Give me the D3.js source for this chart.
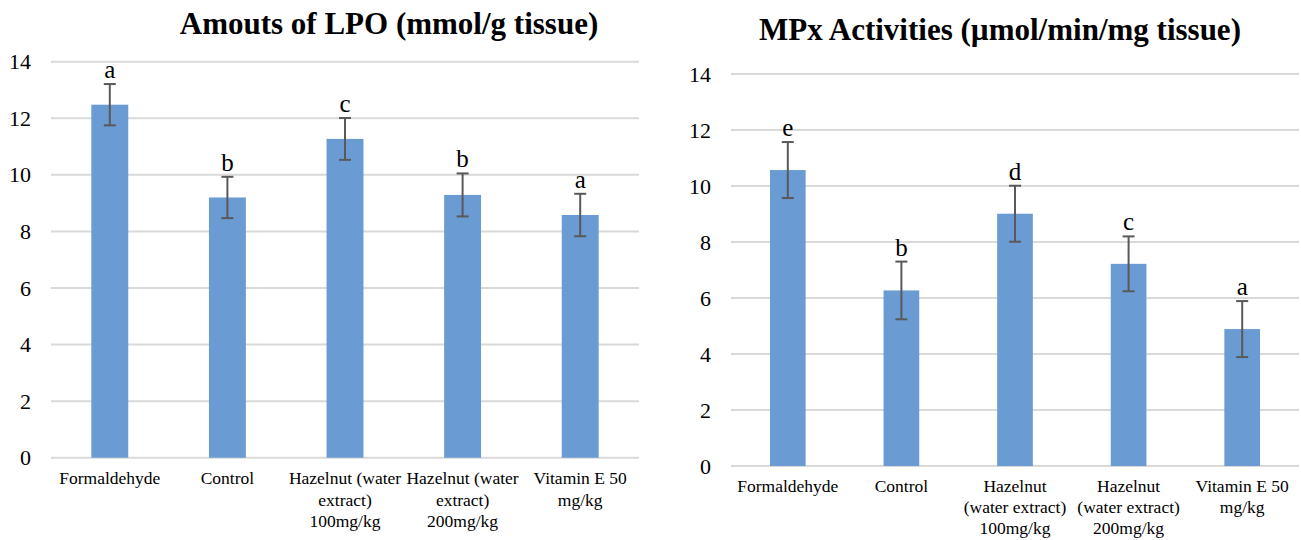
<!DOCTYPE html>
<html>
<head>
<meta charset="utf-8">
<script src="https://cdn.jsdelivr.net/npm/d3@7"></script>
<style>
  html, body { margin: 0; padding: 0; background: #ffffff; }
  svg { display: block; }
  text { font-family: "Liberation Serif", "Times New Roman", serif; fill: #000; }
</style>
</head>
<body>
<svg id="chart" width="1301" height="540"></svg>
<script>
// ---- Data ----
const categories = ["Formaldehyde", "Control", "Hazelnut 100", "Hazelnut 200", "Vitamin E 50"];

const lpoTitle = "Amouts of LPO (mmol/g tissue)";
const lpoValues = [12.48, 9.20, 11.27, 9.29, 8.58];
const lpoErrors = [0.73, 0.73, 0.74, 0.76, 0.75];
const lpoLetters = ["a", "b", "c", "b", "a"];
const lpoLabels = [
  ["Formaldehyde"],
  ["Control"],
  ["Hazelnut (water", "extract)", "100mg/kg"],
  ["Hazelnut (water", "extract)", "200mg/kg"],
  ["Vitamin E 50", "mg/kg"]
];

const mpxTitle = "MPx Activities (\u00b5mol/min/mg tissue)";
const mpxValues = [10.57, 6.27, 9.01, 7.22, 4.89];
const mpxErrors = [1.0, 1.03, 1.0, 0.98, 1.0];
const mpxLetters = ["e", "b", "d", "c", "a"];
const mpxLabels = [
  ["Formaldehyde"],
  ["Control"],
  ["Hazelnut", "(water extract)", "100mg/kg"],
  ["Hazelnut", "(water extract)", "200mg/kg"],
  ["Vitamin E 50", "mg/kg"]
];

const yTicks = [0, 2, 4, 6, 8, 10, 12, 14];

// ---- Drawing ----
const svg = d3.select("#chart");

function drawChart(cfg) {
  const g = svg.append("g");
  const x = d3.scaleBand().domain(categories).range([cfg.x0, cfg.x1])
    .paddingInner(0.686).paddingOuter(0.343);
  const y = d3.scaleLinear().domain([0, 14]).range([cfg.y0, cfg.y1]);

  // title
  g.append("text")
    .attr("x", cfg.titleX).attr("y", cfg.titleY)
    .attr("text-anchor", "middle")
    .style("font-weight", "bold").style("font-size", "31px")
    .text(cfg.title);

  // gridlines
  g.append("g").selectAll("line").data(yTicks).join("line")
    .attr("x1", cfg.x0).attr("x2", cfg.x1)
    .attr("y1", d => y(d)).attr("y2", d => y(d))
    .attr("stroke", "#d9d9d9").attr("stroke-width", 2);

  // y axis labels
  const yAxis = d3.axisLeft(y).tickValues(yTicks).tickSize(0).tickPadding(0);
  const ya = g.append("g").attr("transform", `translate(${cfg.yLabelX},0)`).call(yAxis);
  ya.select(".domain").remove();
  ya.selectAll("text")
    .style("font-family", '"Liberation Serif", "Times New Roman", serif')
    .style("font-size", "22px").attr("fill", "#000");

  // bars
  g.append("g").selectAll("rect").data(cfg.values).join("rect")
    .attr("x", (d, i) => x(categories[i]))
    .attr("width", x.bandwidth())
    .attr("y", d => y(d))
    .attr("height", d => y(0) - y(d))
    .attr("fill", "#6a9bd3");

  // error bars
  const eg = g.append("g").attr("stroke", "#595959").attr("stroke-width", 2);
  cfg.values.forEach((v, i) => {
    const cx = x(categories[i]) + x.bandwidth() / 2;
    const e = cfg.errors[i];
    eg.append("line").attr("x1", cx).attr("x2", cx).attr("y1", y(v + e)).attr("y2", y(v - e));
    eg.append("line").attr("x1", cx - 6).attr("x2", cx + 6).attr("y1", y(v + e)).attr("y2", y(v + e));
    eg.append("line").attr("x1", cx - 6).attr("x2", cx + 6).attr("y1", y(v - e)).attr("y2", y(v - e));
  });

  // letters
  g.append("g").selectAll("text").data(cfg.letters).join("text")
    .attr("x", (d, i) => x(categories[i]) + x.bandwidth() / 2)
    .attr("y", (d, i) => y(cfg.values[i] + cfg.errors[i]) - 6)
    .attr("text-anchor", "middle")
    .style("font-size", "25px")
    .text(d => d);

  // category labels
  const lg = g.append("g");
  cfg.labels.forEach((lines, i) => {
    const cx = x(categories[i]) + x.bandwidth() / 2;
    const t = lg.append("text").attr("text-anchor", "middle").style("font-size", cfg.labelSize + "px");
    lines.forEach((ln, j) => {
      t.append("tspan").attr("x", cx).attr("y", cfg.labelY + j * cfg.labelStep).text(ln);
    });
  });
}

drawChart({
  x0: 51, x1: 639, y0: 457.7, y1: 61.7,
  title: lpoTitle, titleX: 389, titleY: 34,
  yLabelX: 31, labelY: 484, labelStep: 21.5, labelSize: 17.5,
  values: lpoValues, errors: lpoErrors, letters: lpoLetters, labels: lpoLabels
});

drawChart({
  x0: 731, x1: 1299, y0: 466, y1: 74,
  title: mpxTitle, titleX: 1000, titleY: 40,
  yLabelX: 711, labelY: 492, labelStep: 21, labelSize: 17.5,
  values: mpxValues, errors: mpxErrors, letters: mpxLetters, labels: mpxLabels
});
</script>
</body>
</html>
